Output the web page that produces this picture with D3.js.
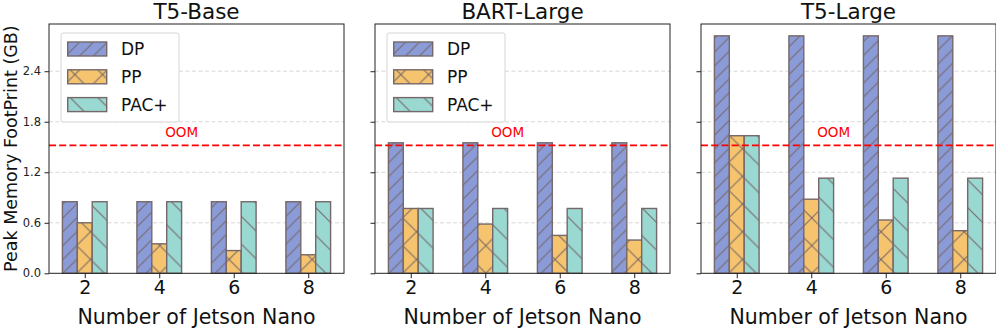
<!DOCTYPE html>
<html><head><meta charset="utf-8">
<script src="https://cdn.jsdelivr.net/npm/d3@7"></script>
<style>
body{margin:0;background:#fff}
text{font-family:"DejaVu Sans",sans-serif}
</style>
</head><body>
<svg id="c" width="996" height="329"></svg>
<script>
// ---- data ----
const categories = ["2", "4", "6", "8"];
const seriesNames = ["DP", "PP", "PAC+"];
const panelTitles = ["T5-Base", "BART-Large", "T5-Large"];
const t5BaseDP  = [0.85, 0.85, 0.85, 0.85];
const t5BasePP  = [0.60, 0.35, 0.27, 0.22];
const t5BasePAC = [0.85, 0.85, 0.85, 0.85];
const bartLargeDP  = [1.55, 1.55, 1.55, 1.55];
const bartLargePP  = [0.77, 0.585, 0.45, 0.395];
const bartLargePAC = [0.77, 0.77, 0.77, 0.77];
const t5LargeDP  = [2.82, 2.82, 2.82, 2.82];
const t5LargePP  = [1.634, 0.88, 0.633, 0.506];
const t5LargePAC = [1.634, 1.13, 1.13, 1.13];
const yTicks = [0, 0.6, 1.2, 1.8, 2.4];
const oomLimit = 1.52;
const oomLabel = "OOM";
const xLabel = "Number of Jetson Nano";
const yLabel = "Peak Memory FootPrint (GB)";

const panels = [
  { title: panelTitles[0], series: [t5BaseDP, t5BasePP, t5BasePAC], legend: true },
  { title: panelTitles[1], series: [bartLargeDP, bartLargePP, bartLargePAC], legend: true },
  { title: panelTitles[2], series: [t5LargeDP, t5LargePP, t5LargePAC], legend: false }
];

// ---- style ----
const fills = ["#8a9bd8", "#f6c46e", "#9ad8d2"];
const edge = "#766868";
const hatchIds = ["hDP", "hPP", "hPAC"];
const panelLefts = [49, 375, 701];
const W = 295, plotTop = 24, H = 249.3;
const barW = 0.2;

const svg = d3.select("#c");
const defs = svg.append("defs");

function makePattern(id, fill, size, dirs) {
  const p = defs.append("pattern").attr("id", id)
    .attr("patternUnits", "userSpaceOnUse")
    .attr("width", size).attr("height", size);
  p.append("rect").attr("width", size).attr("height", size).attr("fill", fill);
  const s = size;
  dirs.forEach(d => {
    const segs = d === "/" ?
      [[0, s, s, 0], [-s, s, s, -s], [0, 2 * s, 2 * s, 0]] :
      [[0, 0, s, s], [-s, 0, s, 2 * s], [0, -s, 2 * s, s]];
    segs.forEach(q => p.append("line")
      .attr("x1", q[0]).attr("y1", q[1]).attr("x2", q[2]).attr("y2", q[3])
      .attr("stroke", edge).attr("stroke-width", 1));
  });
}
makePattern(hatchIds[0], fills[0], 13.85, ["/"]);
makePattern(hatchIds[1], fills[1], 27.7, ["/", "\\"]);
makePattern(hatchIds[2], fills[2], 27.7, ["\\"]);

const x = d3.scaleLinear().domain([-0.48, 3.48]).range([0, W]);
const y = d3.scaleLinear().domain([0, 2.82 * 1.05]).range([H, 0]);

panels.forEach((pn, pi) => {
  const g = svg.append("g").attr("transform", `translate(${panelLefts[pi]},${plotTop})`);

  // grid
  g.append("g").selectAll("line").data(yTicks.filter(v => v > 0)).join("line")
    .attr("x1", 0).attr("x2", W)
    .attr("y1", d => y(d)).attr("y2", d => y(d))
    .attr("stroke", "#d4d4d4").attr("stroke-width", 0.9)
    .attr("stroke-dasharray", "4,2.5");

  // bars
  pn.series.forEach((vals, si) => {
    g.append("g").selectAll("rect").data(vals).join("rect")
      .attr("x", (d, i) => x(i + (si - 1) * barW - barW / 2))
      .attr("width", x(barW) - x(0))
      .attr("y", d => y(d))
      .attr("height", d => y(0) - y(d))
      .attr("fill", `url(#${hatchIds[si]})`)
      .attr("stroke", edge).attr("stroke-width", 1.4);
  });

  // OOM line
  g.append("line").attr("x1", 0).attr("x2", W)
    .attr("y1", y(oomLimit)).attr("y2", y(oomLimit))
    .attr("stroke", "#ff0000").attr("stroke-width", 1.8)
    .attr("stroke-dasharray", "7,3.2");
  g.append("text").attr("x", x(1.3)).attr("y", y(oomLimit + 0.1))
    .attr("text-anchor", "middle").attr("fill", "#ff0000")
    .attr("font-size", 13.5).text(oomLabel);

  // axes
  const ya = d3.axisLeft(y).tickValues(yTicks).tickSize(4.5).tickPadding(3.5)
    .tickFormat(pi === 0 ? d3.format(".1f") : () => "");
  const yg = g.append("g").call(ya);
  yg.select(".domain").remove();
  yg.selectAll("text").attr("font-size", 11.5).attr("fill", "#222").style("font-family", "DejaVu Sans");
  yg.selectAll("line").attr("stroke", "#222");

  const xa = d3.axisBottom(x).tickValues([0, 1, 2, 3]).tickSize(5).tickPadding(2.5)
    .tickFormat(i => categories[i]);
  const xg = g.append("g").attr("transform", `translate(0,${H})`).call(xa);
  xg.select(".domain").remove();
  xg.selectAll("text").attr("font-size", 19).attr("fill", "#111").style("font-family", "DejaVu Sans");
  xg.selectAll("line").attr("stroke", "#222");

  // spines
  g.append("rect").attr("x", 0).attr("y", 0).attr("width", W).attr("height", H)
    .attr("fill", "none").attr("stroke", "#222").attr("stroke-width", 1);

  // title / label
  g.append("text").attr("x", W / 2).attr("y", 19 - plotTop)
    .attr("text-anchor", "middle").attr("font-size", 21.5).attr("fill", "#111").text(pn.title);
  g.append("text").attr("x", W / 2).attr("y", 324.3 - plotTop)
    .attr("text-anchor", "middle").attr("font-size", 20.5).attr("fill", "#111").text(xLabel);

  // legend
  if (pn.legend) {
    const lg = g.append("g").attr("transform", "translate(12,9)");
    lg.append("rect").attr("x", 0).attr("y", 0).attr("width", 118).attr("height", 89)
      .attr("rx", 2).attr("fill", "#fff").attr("fill-opacity", 0.9)
      .attr("stroke", "#d6d6d6").attr("stroke-width", 1);
    seriesNames.forEach((nm, si) => {
      const cy = 16 + si * 27.8;
      lg.append("rect").attr("x", 6.7).attr("y", cy - 7).attr("width", 39).attr("height", 14)
        .attr("fill", `url(#${hatchIds[si]})`).attr("stroke", edge).attr("stroke-width", 1.4);
      lg.append("text").attr("x", 60).attr("y", cy + 6)
        .attr("font-size", 17).attr("fill", "#111").text(nm);
    });
  }
});

// y label
svg.append("text").attr("transform", `translate(16.5,${plotTop + H / 2}) rotate(-90)`)
  .attr("text-anchor", "middle").attr("font-size", 17.5).attr("fill", "#111").text(yLabel);
</script>
</body></html>
